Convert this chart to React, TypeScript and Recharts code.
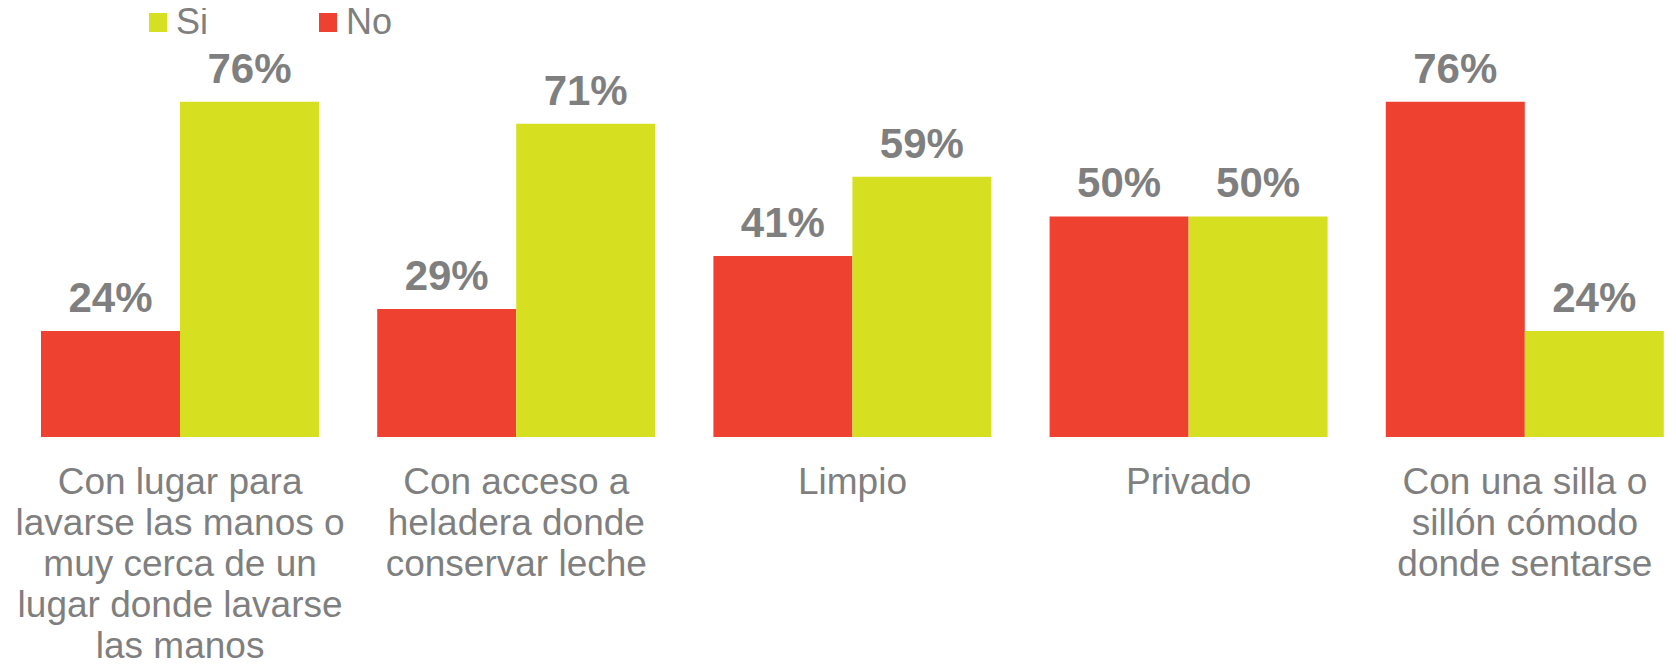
import { BarChart, Bar, XAxis, YAxis, LabelList } from "recharts";

const categories = [
  "Con lugar para\nlavarse las manos o\nmuy cerca de un\nlugar donde lavarse\nlas manos",
  "Con acceso a\nheladera donde\nconservar leche",
  "Limpio",
  "Privado",
  "Con una silla o\nsillón cómodo\ndonde sentarse",
];
const noValues = [24, 29, 41, 50, 76];
const siValues = [76, 71, 59, 50, 24];

const RED = "#EF4130";
const LIME = "#D6E021";
const GRAY = "#7F7F7F";
const FONT = "'Liberation Sans', Arial, sans-serif";

const data = categories.map((name, i) => ({ name, No: noValues[i], Si: siValues[i] }));

function CategoryTick({ x, y, payload }: any) {
  const lines = String(payload.value).split("\n");
  return (
    <text x={x} y={y} textAnchor="middle" fill={GRAY} fontSize={37} fontFamily={FONT}>
      {lines.map((line, i) => (
        <tspan key={i} x={x} dy={i === 0 ? 57 : 41}>
          {line}
        </tspan>
      ))}
    </text>
  );
}

const pct = (v: any) => `${v}%`;

function LegendItem({ color, label, left, textLeft }: { color: string; label: string; left: number; textLeft: number }) {
  return (
    <>
      <div style={{ position: "absolute", left, top: 13, width: 18, height: 19, background: color }} />
      <div
        style={{
          position: "absolute",
          left: textLeft,
          top: 2,
          fontSize: 36,
          lineHeight: "40px",
          color: GRAY,
          fontFamily: FONT,
        }}
      >
        {label}
      </div>
    </>
  );
}

export default function App() {
  return (
    <div style={{ position: "relative", width: 1676, height: 669, margin: -8, overflow: "hidden", background: "#fff" }}>
      <BarChart
        width={1700}
        height={669}
        data={data}
        margin={{ top: 84, right: 7, left: 12, bottom: 32 }}
        barCategoryGap={29}
        barGap={0}
      >
        <XAxis
          dataKey="name"
          interval={0}
          axisLine={false}
          tickLine={false}
          tickSize={0}
          tickMargin={0}
          height={200}
          tick={<CategoryTick />}
        />
        <YAxis hide domain={[0, 80]} />
        <Bar dataKey="No" fill={RED} isAnimationActive={false}>
          <LabelList
            dataKey="No"
            position="top"
            offset={19}
            formatter={pct}
            fill={GRAY}
            fontSize={42}
            fontWeight="bold"
            fontFamily={FONT}
          />
        </Bar>
        <Bar dataKey="Si" fill={LIME} isAnimationActive={false}>
          <LabelList
            dataKey="Si"
            position="top"
            offset={19}
            formatter={pct}
            fill={GRAY}
            fontSize={42}
            fontWeight="bold"
            fontFamily={FONT}
          />
        </Bar>
      </BarChart>
      <LegendItem color={LIME} label="Si" left={149} textLeft={176} />
      <LegendItem color={RED} label="No" left={319} textLeft={346} />
    </div>
  );
}
